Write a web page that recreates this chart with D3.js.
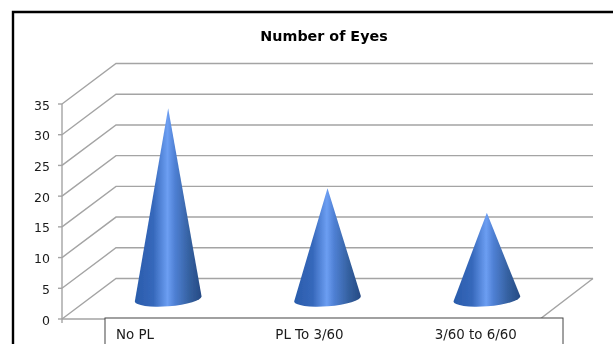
<!DOCTYPE html>
<html><head><meta charset="utf-8">
<script src="https://cdn.jsdelivr.net/npm/d3@7"></script>
<style>html,body{margin:0;padding:0;background:#fff;overflow:hidden}svg{display:block}text{font-family:"DejaVu Sans",sans-serif;fill:#1a1a1a}</style>
</head><body><svg id="c" width="613" height="344"></svg>
<script>
const categories = ["No PL","PL To 3/60","3/60 to 6/60"];
const eyes = [31,18,14];
const yTicks = [0,5,10,15,20,25,30,35];
const titleText = "Number of Eyes";

const svg = d3.select("#c");
const W=613,H=344;
const y = d3.scaleLinear().domain([0,35]).range([319,104]);
const x = d3.scaleBand().domain(categories).range([62,540]);
const dx=54, dy=-40.5, backRight=593;

const defs = svg.append("defs");
const g = defs.append("linearGradient").attr("id","cone").attr("x1",0).attr("x2",1).attr("y1",0).attr("y2",0);
[[0,"#2a5cab"],[0.28,"#3668bb"],[0.49,"#6c9ef2"],[0.6,"#4f80d4"],[0.82,"#34609f"],[1,"#264a84"]]
 .forEach(s=>g.append("stop").attr("offset",s[0]).attr("stop-color",s[1]));
defs.append("filter").attr("id","soft").append("feGaussianBlur").attr("stdDeviation",0.45);

const root = svg.append("g").attr("filter","url(#soft)");
// frame
root.append("path").attr("d",`M13,${H}V12H${W}`).attr("fill","none").attr("stroke","#000").attr("stroke-width",2.4);
// title
root.append("text").attr("x",324).attr("y",41).attr("text-anchor","middle").attr("font-size",14.3).attr("font-weight","bold")
  .style("fill","#000").text(titleText);

// grid
const grid = root.append("g").attr("fill","none").attr("stroke","#a4a4a4").attr("stroke-width",1.4);
yTicks.forEach(t=>{
  const yy=y(t);
  grid.append("path").attr("d",`M62,${yy}L${62+dx},${yy+dy}H${backRight}`);
});
// floor
grid.append("path").attr("d",`M62,${y(0)}H${x.range()[1]}L${backRight},${y(0)+dy}`);
// axis
grid.append("path").attr("d",`M62,${y(35)}V${y(0)+4}`);
yTicks.forEach(t=>grid.append("path").attr("d",`M58,${y(t)}H62`));
root.append("g").selectAll("text").data(yTicks).join("text")
  .attr("x",50).attr("y",d=>y(d)+5.5).attr("text-anchor","end").attr("font-size",12.5).text(d=>d);

// cones
const rx = x.bandwidth()*0.21, ry=7.6, rot=-4.5;
const rad=rot*Math.PI/180;
root.append("g").selectAll("path").data(categories).join("path")
  .attr("fill","url(#cone)")
  .attr("d",(c,i)=>{
    const cx=x(c)+x.bandwidth()/2+dx/2-0.5, cy=y(0)+dy/2;
    const ax=cx, ay=y(eyes[i])+dy/2;
    const lx=cx-rx*Math.cos(rad), ly=cy-rx*Math.sin(rad);
    const rxp=cx+rx*Math.cos(rad), ryp=cy+rx*Math.sin(rad);
    return `M${ax},${ay}L${rxp},${ryp}A${rx},${ry} ${rot} 0 1 ${lx},${ly}Z`;
  });

// data table
root.append("rect").attr("x",105).attr("y",318).attr("width",458).attr("height",40)
  .attr("fill","#fff").attr("stroke","#444").attr("stroke-width",1);
root.append("g").selectAll("text").data(categories).join("text")
  .attr("x",c=>x(c)+54).attr("y",339).attr("font-size",13.4).text(c=>c);
</script></body></html>
